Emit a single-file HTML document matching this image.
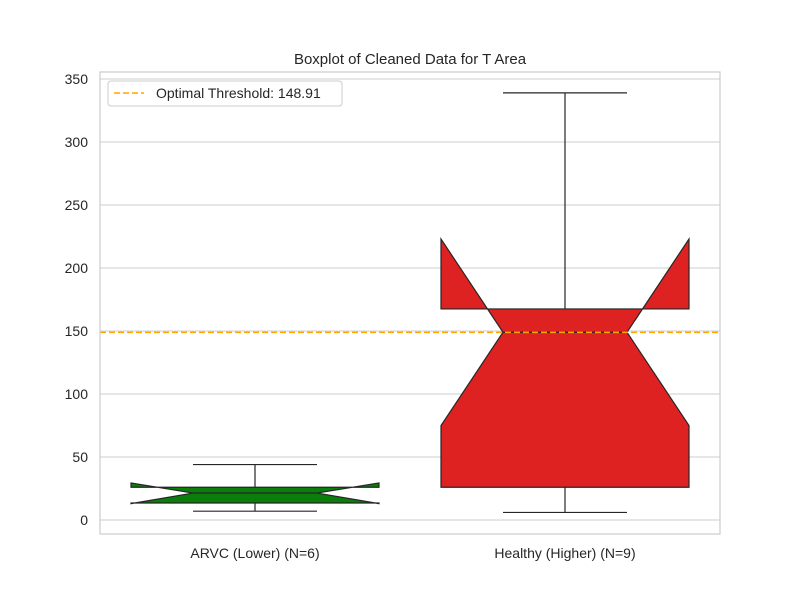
<!DOCTYPE html>
<html><head><meta charset="utf-8"><style>
body{margin:0;background:#fff;font-family:"Liberation Sans","DejaVu Sans",sans-serif;}
</style></head><body>
<svg id="chart" width="800" height="600" xmlns="http://www.w3.org/2000/svg">
<rect width="800" height="600" fill="#fff"/>
<text x="410" y="64" text-anchor="middle" font-size="15" fill="#262626">Boxplot of Cleaned Data for T Area</text>
<g id="grid"></g>
<g id="boxes"></g>
<rect x="100" y="72" width="620" height="462" fill="none" stroke="#cccccc" stroke-width="1.2"/>
<g id="ticks"></g>
<g>
<rect x="108" y="81" width="234" height="25" rx="3" fill="#fff" fill-opacity="0.8" stroke="#cccccc"/>
<line x1="114" y1="93" x2="144" y2="93" stroke="orange" stroke-width="1.6" stroke-dasharray="6,3"/>
<text x="156" y="98" font-size="14" fill="#262626">Optimal Threshold: 148.91</text>
</g>
</svg>
<script>
const categories=["ARVC (Lower) (N=6)","Healthy (Higher) (N=9)"];
const whiskerLow=[7,6];
const q1=[13.5,26];
const median=[21.4,149];
const q3=[26,167.5];
const whiskerHigh=[44,339];
const notchLow=[13,75];
const notchHigh=[29.4,223];
const colors=["#0a7d0a","#de2222"];
const threshold=148.91;
const yTicks=[0,50,100,150,200,250,300,350];
const NS="http://www.w3.org/2000/svg";
const L=100,R=720;
function y(v){return 520-v*1.26;}
function xc(i){return L+(R-L)*(i+0.5)/categories.length;}
function el(t,a,p){const e=document.createElementNS(NS,t);for(const k in a)e.setAttribute(k,a[k]);p.appendChild(e);return e;}
const grid=document.getElementById('grid'),ticks=document.getElementById('ticks'),boxes=document.getElementById('boxes');
yTicks.forEach(v=>{
 const g=el('line',{x1:L,x2:R,y1:y(v),y2:y(v),stroke:'#cccccc','stroke-width':1},grid);
 
 
 const t=el('text',{x:88,y:y(v)+5,'text-anchor':'end','font-size':14,fill:'#262626'},ticks);
 t.textContent=v;
 
 
});
categories.forEach((c,i)=>{
 const cx=xc(i),hw=124,l=cx-hw,r=cx+hw;
 const w1=el('line',{x1:cx,x2:cx,y1:y(q1[i]),y2:y(whiskerLow[i]),stroke:'#262626','stroke-width':1.2},boxes);
 
 
 const w2=el('line',{x1:cx,x2:cx,y1:y(q3[i]),y2:y(whiskerHigh[i]),stroke:'#262626','stroke-width':1.2},boxes);
 
 
 [whiskerLow[i],whiskerHigh[i]].forEach(v=>{
  const cap=el('line',{x1:cx-hw/2,x2:cx+hw/2,y1:y(v),y2:y(v),stroke:'#262626','stroke-width':1.2},boxes);
  
  
 });
 const pts=[[l,q1[i]],[l,notchLow[i]],[cx-hw/2,median[i]],[l,notchHigh[i]],[l,q3[i]],[r,q3[i]],[r,notchHigh[i]],[cx+hw/2,median[i]],[r,notchLow[i]],[r,q1[i]]];
 const p=el('polygon',{points:pts.map(q=>q[0]+','+y(q[1])).join(' '),fill:colors[i],stroke:'#262626','stroke-width':1.2,'stroke-linejoin':'miter'},boxes);
 
 
 const m=el('line',{x1:cx-hw/2,x2:cx+hw/2,y1:y(median[i]),y2:y(median[i]),stroke:'#262626','stroke-width':1.2},boxes);
 
 
 const t=el('text',{x:cx,y:558,'text-anchor':'middle','font-size':14,fill:'#262626'},ticks);
 t.textContent=c;
 
 
});
const th=el('line',{x1:L,x2:R,y1:y(threshold),y2:y(threshold),stroke:'orange','stroke-width':1.6,'stroke-dasharray':'6,3'},boxes);


</script>
</body></html>
